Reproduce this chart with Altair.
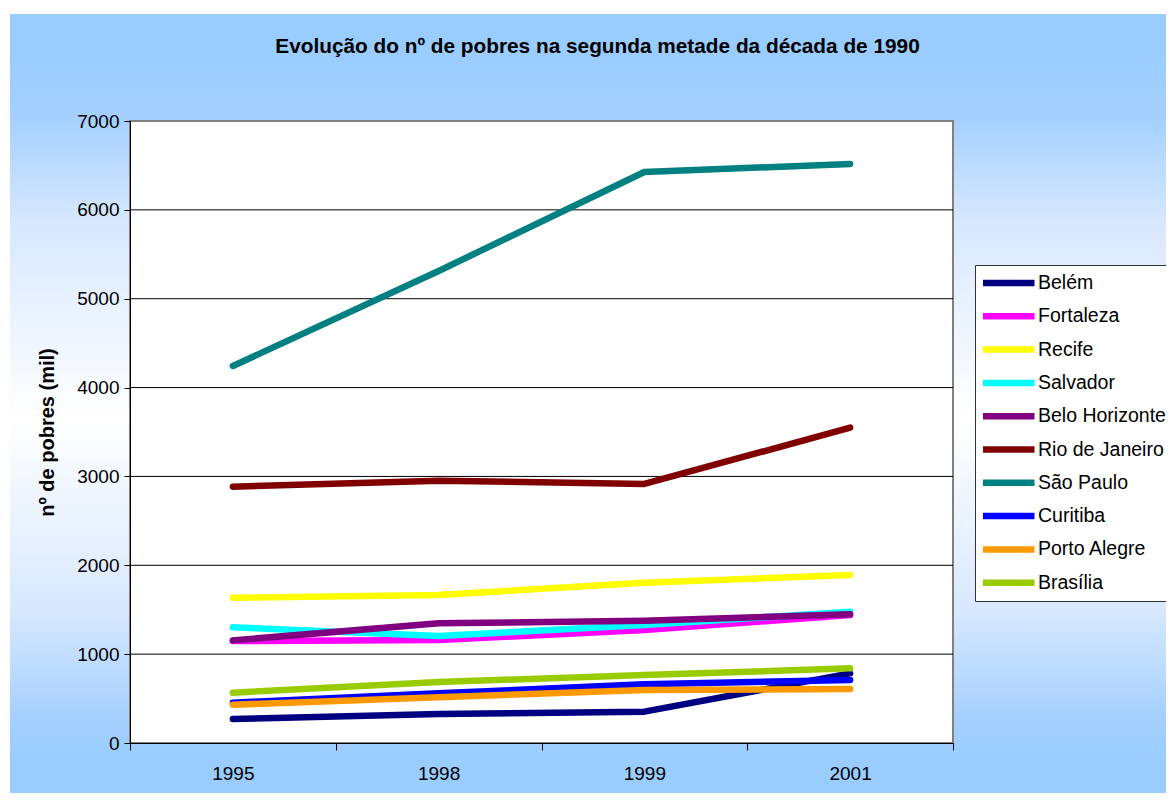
import altair as alt
import pandas as pd

anos = ["1995", "1998", "1999", "2001"]
cidades = ["Belém", "Fortaleza", "Recife", "Salvador", "Belo Horizonte",
           "Rio de Janeiro", "São Paulo", "Curitiba", "Porto Alegre", "Brasília"]
cores = ["#000080", "#FF00FF", "#FFFF00", "#00FFFF", "#800080",
         "#800000", "#008080", "#0000FF", "#FF9900", "#99CC00"]

belem = [270, 326, 353, 784]
fortaleza = [1148, 1159, 1272, 1440]
recife = [1635, 1666, 1804, 1891]
salvador = [1302, 1204, 1328, 1478]
belo_horizonte = [1155, 1347, 1376, 1448]
rio = [2885, 2952, 2915, 3549]
sao_paulo = [4243, 5312, 6426, 6516]
curitiba = [454, 559, 660, 709]
porto_alegre = [431, 514, 596, 608]
brasilia = [566, 686, 765, 840]

series = [belem, fortaleza, recife, salvador, belo_horizonte,
          rio, sao_paulo, curitiba, porto_alegre, brasilia]

y_ticks = [0, 1000, 2000, 3000, 4000, 5000, 6000, 7000]
grid_vals = [1000, 2000, 3000, 4000, 5000, 6000]

rows = []
for i, (c, vals) in enumerate(zip(cidades, series)):
    for a, v in zip(anos, vals):
        rows.append({"cidade": c, "ano": a, "pobres": v, "ordem": i})
df = pd.DataFrame(rows)

W, H = 823, 622
FONT = "Liberation Sans, Arial, sans-serif"

grad = {
    "gradient": "linear", "x1": 0, "y1": 0, "x2": 0, "y2": 1,
    "stops": [
        {"offset": 0.0, "color": "#99CCFF"},
        {"offset": 0.04, "color": "#99CCFF"},
        {"offset": 0.13, "color": "#A5D0FF"},
        {"offset": 0.26, "color": "#D8E8FF"},
        {"offset": 0.5, "color": "#FFFFFF"},
        {"offset": 0.74, "color": "#D8E8FF"},
        {"offset": 0.87, "color": "#A5D0FF"},
        {"offset": 0.93, "color": "#99CCFF"},
        {"offset": 1.0, "color": "#99CCFF"},
    ],
}

one = pd.DataFrame({"k": [0]})

bg = alt.Chart(one).mark_rect(fill=grad, clip=False).encode(
    x=alt.value(-120), x2=alt.value(1060), y=alt.value(-107), y2=alt.value(700)
)

plot_bg = alt.Chart(one).mark_rect(fill="white", stroke="#808080", strokeWidth=2).encode(
    x=alt.value(0), x2=alt.value(W), y=alt.value(0), y2=alt.value(H)
)

yscale = alt.Scale(domain=[0, 7000], nice=False)
yaxis = alt.Axis(
    values=y_ticks, grid=False, tickSize=6, labelPadding=5, format="d",
    title="nº de pobres (mil)", titleFontSize=20, titleFontWeight="bold",
    titlePadding=19, zindex=1,
)

grid = alt.Chart(pd.DataFrame({"pobres": grid_vals})).mark_rule(
    color="black", strokeWidth=1
).encode(y=alt.Y("pobres:Q", scale=yscale, axis=yaxis))

lines = alt.Chart(df).mark_line(
    strokeWidth=6.5, strokeCap="round", strokeJoin="round"
).encode(
    x=alt.X(
        "ano:O",
        scale=alt.Scale(type="band", paddingInner=0, paddingOuter=0),
        bandPosition=0.5,
        axis=alt.Axis(title=None, labelAngle=0, tickBand="extent", tickSize=7,
                      labelPadding=14, zindex=1),
    ),
    y=alt.Y("pobres:Q", scale=yscale, axis=yaxis),
    color=alt.Color(
        "cidade:N",
        scale=alt.Scale(domain=cidades, range=cores),
        sort=cidades,
        legend=alt.Legend(
            title=None, orient="none", legendX=845, legendY=144,
            symbolType="stroke", symbolStrokeWidth=6.5, symbolSize=2916,
            symbolOffset=-6, clipHeight=20, rowPadding=13.3, padding=8,
            labelOffset=0, labelFontSize=19.5, labelFont=FONT, labelColor="black",
            strokeColor="#333333", fillColor="white",
        ),
    ),
    detail="ordem:O",
)

chart = alt.layer(bg, plot_bg, grid, lines).properties(
    width=W, height=H,
    title=alt.TitleParams(
        text="Evolução do nº de pobres na segunda metade da década de 1990",
        font=FONT, fontSize=20.8, fontWeight="bold", color="black",
        anchor="middle", dx=56, dy=44, offset=0,
    ),
    padding={"left": 122, "top": 113, "right": 213, "bottom": 50},
    autosize=alt.AutoSizeParams(type="none"),
).configure(background="white").configure_view(stroke=None).configure_axis(
    labelFont=FONT, labelFontSize=19, labelColor="black",
    titleFont=FONT, titleColor="black",
    domainColor="black", domainWidth=1, tickColor="black", tickWidth=1,
)

chart.save("out.html", embed_options={"renderer": "svg", "actions": False})
